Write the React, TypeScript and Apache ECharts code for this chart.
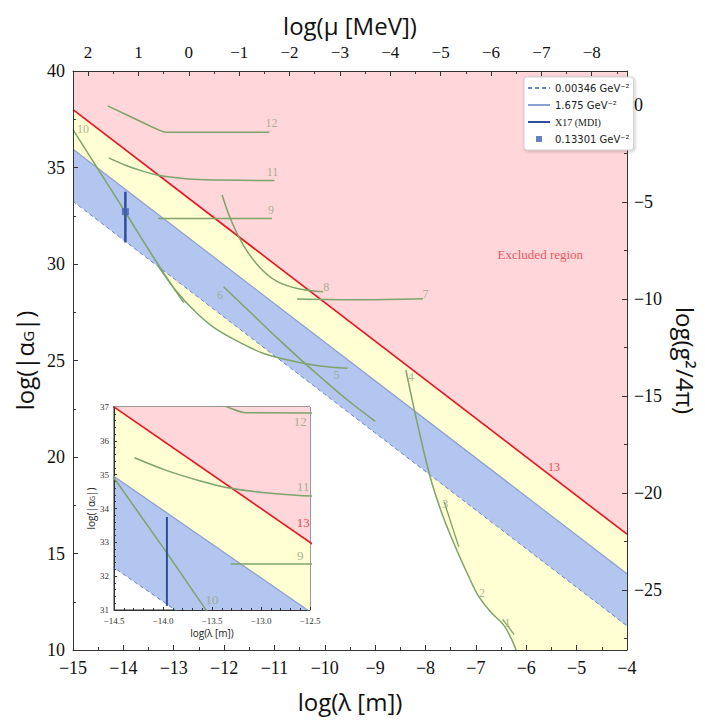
import React, { useEffect, useRef } from "react";
import * as echarts from "echarts";

// ---------- data (log10 values) ----------
// straight boundary lines, given at the two ends of the λ range
const boundX = [-15, -4];
const line13 = [38.0, 16.0]; // curve 13 (red, excluded region boundary)
const line1675 = [35.95, 13.95]; // 1.675 GeV^-2
const line00346 = [33.25, 11.25]; // 0.00346 GeV^-2

// X17 (MDI)
const x17X = -13.96;
const x17Range = [31.12, 33.75];
const x17Point = 32.71; // 0.13301 GeV^-2

// top axis: log(μ [MeV]) = muOffset − log(λ [m])
const muOffset = -12.7;
// right axis: log(g²/4π) range
const gRange = [-28.1, 1.75];

// experimental curves [log λ, log |α_G|]
const curve12 = [[-14.31, 38.19], [-13.75, 37.5], [-13.3, 36.95], [-13.15, 36.83], [-11.1, 36.82]];
const curve11 = [[-14.29, 35.5], [-13.96, 35.12], [-13.6, 34.8], [-13.31, 34.6], [-12.9, 34.45], [-12.4, 34.36], [-11.0, 34.33]];
const curve9 = [[-13.31, 32.36], [-11.05, 32.36]];
const curve10 = [[-15.0, 36.96], [-14.5, 34.9], [-14.0, 32.85], [-13.5, 30.75], [-13.0, 28.75], [-12.8, 28.0]];
const curve5 = [[-13.3, 29.85], [-12.95, 28.6], [-12.6, 27.6], [-12.2, 26.7], [-11.7, 25.95], [-11.2, 25.35], [-10.6, 24.95], [-10.1, 24.72], [-9.55, 24.6]];
const curve6 = [[-12.01, 28.82], [-11.5, 27.55], [-11.0, 26.3], [-10.5, 25.1], [-10.0, 23.95], [-9.5, 22.85], [-9.0, 21.85]];
const curve8 = [[-12.04, 33.58], [-11.85, 32.2], [-11.6, 30.9], [-11.3, 29.85], [-10.95, 29.1], [-10.5, 28.7], [-10.03, 28.56]];
const curve7 = [[-10.55, 28.19], [-9.3, 28.15], [-8.05, 28.2]];
const curve4to1 = [[-8.39, 24.5], [-8.15, 21.6], [-7.9, 18.9], [-7.65, 16.9], [-7.4, 15.3], [-7.15, 13.85], [-6.95, 12.8], [-6.7, 11.95], [-6.45, 11.3], [-6.3, 10.6], [-6.2, 10.0]];
const cross3 = [[-7.63, 17.68], [-7.34, 15.35]];
const cross1 = [[-6.47, 11.6], [-6.24, 10.8]];
const bottomRightCorner = [-4, 10];

// curve labels [log λ, log |α_G|, text]
const mainLabels = [
  [-11.06, 37.29, "12"], [-11.04, 34.78, "11"], [-11.07, 32.8, "9"], [-14.8, 36.98, "10"],
  [-9.97, 28.79, "8"], [-8.0, 28.45, "7"], [-12.08, 28.39, "6"], [-9.77, 24.25, "5"],
  [-8.29, 24.16, "4"], [-7.61, 17.56, "3"], [-6.88, 12.94, "2"], [-6.37, 11.38, "1"],
];
const mainRedLabels = [[-5.45, 19.5, "13"]];
const excludedLabel = [[-5.72, 30.47, "Excluded region"]];
const insetLabels = [[-12.6, 36.57, "12"], [-12.57, 34.66, "11"], [-12.6, 32.6, "9"], [-13.5, 31.3, "10"]];
const insetRedLabels = [[-12.57, 33.59, "13"]];

// legend names
const NAME_DASH = "0.00346 GeV\u207B\u00B2";
const NAME_SOLID = "1.675 GeV\u207B\u00B2";
const NAME_X17 = "X17 (MDI)";
const NAME_SQ = "0.13301 GeV\u207B\u00B2";

// ---------- styles ----------
const SERIF = "'Liberation Serif', 'Times New Roman', serif";
const SANS = "'Open Sans', 'Noto Sans', sans-serif";
const PINK = "#ffd6d9";
const YELLOW = "#ffffd3";
const BLUE = "#b3c6ef";
const RED = "#e8141e";
const GREEN = "#7ea36b";
const LABEL_GREEN = "#95a283";
const AXIS = "#333";
const DASH_COLOR = "#6a86c4";
const SOLID_COLOR = "#8aa0cf";
const X17_COLOR = "#2c4f9e";

const pair = (xs: number[], ys: number[]) => xs.map((x, i) => [x, ys[i]]);

const minus = (s: string) => s.replace("-", "\u2212");
const intLabel = (v: number) => (Math.abs(v - Math.round(v)) > 1e-6 ? "" : minus(String(Math.round(v))));
const fiveLabel = (v: number) => (Math.abs(v / 5 - Math.round(v / 5)) > 1e-6 ? "" : minus(String(Math.round(v))));

function fill(data: any[], color: string, z: number, xi = 0, yi = 0, smooth: any = false) {
  return {
    type: "line", data, xAxisIndex: xi, yAxisIndex: yi, symbol: "none", silent: true, z,
    smooth,
    lineStyle: { opacity: 0, width: 0 },
    areaStyle: { color, opacity: 1, origin: "end" },
  };
}

function stroke(data: any[], color: string, width: number, z: number, xi = 0, yi = 0, extra: any = {}) {
  return {
    type: "line", data, xAxisIndex: xi, yAxisIndex: yi, symbol: "none", silent: true, z,
    itemStyle: { color },
    lineStyle: { color, width, ...(extra.lineStyle || {}) },
    ...extra.rest,
  };
}

function curve(data: any[], z: number, xi = 0, yi = 0) {
  return {
    type: "line", data, xAxisIndex: xi, yAxisIndex: yi, symbol: "none", silent: true, z,
    smooth: 0.35,
    lineStyle: { color: GREEN, width: 1.5 },
  };
}

function labels(items: any[], color: string, size: number, z: number, xi = 0, yi = 0) {
  return {
    type: "scatter", xAxisIndex: xi, yAxisIndex: yi, silent: true, z,
    symbolSize: 1, itemStyle: { color: "rgba(0,0,0,0)" },
    data: items.map(([x, y, t]) => ({ value: [x, y], name: t })),
    label: { show: true, position: "inside", formatter: "{b}", color, fontFamily: SERIF, fontSize: size },
  };
}

export default function App() {
  const ref = useRef<HTMLDivElement>(null);

  useEffect(() => {
    if (!ref.current) return;
    const chart = echarts.init(ref.current, null, { renderer: "svg" });

    const d13 = pair(boundX, line13);
    const d1675 = pair(boundX, line1675);
    const d00346 = pair(boundX, line00346);
    const dX17 = x17Range.map((y) => [x17X, y]);
    const brFill = [...curve4to1, bottomRightCorner];

    const mainSeries: any[] = [
      fill(brFill, YELLOW, 1, 0, 0, 0.35),
      fill(curve5, YELLOW, 1, 0, 0, 0.35),
      fill(d00346, BLUE, 2),
      fill(d1675, YELLOW, 3),
      fill(d13, PINK, 4),
      stroke(d00346, DASH_COLOR, 1, 5, 0, 0, { lineStyle: { type: [4, 3] }, rest: { name: NAME_DASH } }),
      stroke(d1675, SOLID_COLOR, 1.2, 5, 0, 0, { rest: { name: NAME_SOLID } }),
      stroke(d13, RED, 1.6, 5),
      curve(curve12, 6), curve(curve11, 6), curve(curve9, 6), curve(curve10, 6), curve(curve5, 6),
      curve(curve6, 6), curve(curve8, 6), curve(curve7, 6), curve(curve4to1, 6),
      stroke(cross3, GREEN, 1.3, 6), stroke(cross1, GREEN, 1.3, 6),
      stroke(dX17, X17_COLOR, 2.5, 7, 0, 0, { rest: { name: NAME_X17 } }),
      {
        type: "scatter", name: NAME_SQ, data: [[x17X, x17Point]], symbol: "rect", symbolSize: 7,
        itemStyle: { color: "#3d62b0" }, z: 7, silent: true,
      },
      labels(mainLabels, LABEL_GREEN, 12, 8),
      labels(mainRedLabels, RED, 12, 8),
      labels(excludedLabel, "#e0323c", 13, 8),
    ];

    const insetSeries: any[] = [
      fill(d00346, BLUE, 11, 2, 2),
      fill(d1675, YELLOW, 12, 2, 2),
      fill(d13, PINK, 13, 2, 2),
      stroke(d00346, DASH_COLOR, 1, 14, 2, 2, { lineStyle: { type: [4, 3] } }),
      stroke(d1675, SOLID_COLOR, 1.2, 14, 2, 2),
      stroke(d13, RED, 1.6, 14, 2, 2),
      curve(curve12, 15, 2, 2), curve(curve11, 15, 2, 2), curve(curve9, 15, 2, 2), curve(curve10, 15, 2, 2),
      stroke(dX17, X17_COLOR, 2, 16, 2, 2),
      labels(insetLabels, LABEL_GREEN, 13, 17, 2, 2),
      labels(insetRedLabels, RED, 13, 17, 2, 2),
    ];

    const axisLine = { show: true, onZero: false, lineStyle: { color: AXIS } };
    const tickStyle = { inside: true, length: 5, lineStyle: { color: AXIS } };
    const minor = { show: true, splitNumber: 2, length: 3, lineStyle: { color: AXIS } };
    const mainLabel = { fontFamily: SERIF, fontSize: 18, color: "#111" };
    const titleStyle = { fontFamily: SANS, fontSize: 24, color: "#111" };
    const hideSymbol = { opacity: 0 };
    const corner = "M0,0h0.01v0.01h-0.01z M22,10h0.01v0.01h-0.01z";

    chart.setOption({
      animation: false,
      backgroundColor: "#fff",
      grid: [
        { left: 73, right: 67, top: 71, bottom: 70, show: false },
        { left: 114, top: 407, width: 196, height: 203, show: true, backgroundColor: "#fff", borderColor: AXIS, borderWidth: 1, z: 10 },
      ],
      legend: {
        data: [
          { name: NAME_DASH, itemStyle: hideSymbol },
          { name: NAME_SOLID, itemStyle: hideSymbol },
          { name: NAME_X17, itemStyle: hideSymbol },
          { name: NAME_SQ, icon: "path://" + corner + " M8,2h6v6h-6z" },
        ],
        left: 524, top: 77, orient: "vertical",
        backgroundColor: "#fff", borderColor: "#cfcfcf", borderWidth: 1, borderRadius: 3,
        padding: [6, 4, 6, 3], itemGap: 7, itemWidth: 22, itemHeight: 10,
        shadowBlur: 3, shadowColor: "rgba(0,0,0,0.25)", shadowOffsetX: 1, shadowOffsetY: 1,
        selectedMode: false, z: 20,
        formatter: (n: string) => (n === NAME_X17 ? "{s|" + n + "}" : n),
        textStyle: {
          fontFamily: "'DejaVu Sans', sans-serif", fontSize: 10, color: "#222",
          rich: { s: { fontFamily: SERIF, fontSize: 10, color: "#222" } },
        },
      },
      xAxis: [
        {
          type: "value", gridIndex: 0, position: "bottom", min: boundX[0], max: boundX[1], interval: 1, z: 8,
          axisLine, axisTick: tickStyle, minorTick: minor,
          splitLine: { show: false },
          axisLabel: { ...mainLabel, margin: 9, formatter: intLabel },
          name: "log(\u03BB [m])", nameLocation: "middle", nameGap: 39, nameTextStyle: titleStyle,
        },
        {
          type: "value", gridIndex: 0, position: "top", inverse: true,
          min: muOffset - boundX[1], max: muOffset - boundX[0], minInterval: 1, maxInterval: 1, splitNumber: 11, z: 8,
          axisLine, axisTick: tickStyle, minorTick: minor,
          splitLine: { show: false },
          axisLabel: { ...mainLabel, fontSize: 17, margin: 10, formatter: intLabel },
          name: "log(\u03BC [MeV])", nameLocation: "middle", nameGap: 34, nameTextStyle: titleStyle,
        },
        {
          type: "value", gridIndex: 1, min: -14.5, max: -12.5, interval: 0.5, z: 12,
          axisLine,
          axisTick: { inside: true, length: 3, lineStyle: { color: AXIS } },
          minorTick: { show: true, splitNumber: 5, length: 2, lineStyle: { color: AXIS } },
          splitLine: { show: false },
          axisLabel: { fontFamily: SERIF, fontSize: 9, color: "#333", margin: 6, formatter: (v: number) => minus(v.toFixed(1)) },
          name: "log(\u03BB [m])", nameLocation: "middle", nameGap: 18,
          nameTextStyle: { fontFamily: SANS, fontSize: 10, color: "#222" },
        },
      ],
      yAxis: [
        {
          type: "value", gridIndex: 0, position: "left", min: 10, max: 40, interval: 5, z: 8,
          axisLine, axisTick: tickStyle, minorTick: minor,
          splitLine: { show: false },
          axisLabel: { ...mainLabel, margin: 8, formatter: intLabel },
          name: "log(|\u03B1{sub|G}|)", nameLocation: "middle", nameRotate: 90, nameGap: 29,
          nameTextStyle: { ...titleStyle, rich: { sub: { fontFamily: SANS, fontSize: 15, color: "#111", padding: [8, 0, 0, 0] } } },
        },
        {
          type: "value", gridIndex: 0, position: "right", min: gRange[0], max: gRange[1],
          minInterval: 5, maxInterval: 5, splitNumber: 6, z: 8,
          axisLine, axisTick: tickStyle, minorTick: minor,
          splitLine: { show: false },
          axisLabel: { ...mainLabel, margin: 7, formatter: fiveLabel },
          name: "log(g\u00B2/4\u03C0)", nameLocation: "middle", nameRotate: -90, nameGap: 45, nameTextStyle: titleStyle,
        },
        {
          type: "value", gridIndex: 1, min: 31, max: 37, interval: 1, z: 12,
          axisLine,
          axisTick: { inside: true, length: 3, lineStyle: { color: AXIS } },
          minorTick: { show: true, splitNumber: 5, length: 2, lineStyle: { color: AXIS } },
          splitLine: { show: false },
          axisLabel: { fontFamily: SERIF, fontSize: 9, color: "#333", margin: 5 },
          name: "log(|\u03B1{sub|G}|)", nameLocation: "middle", nameRotate: 90, nameGap: 15,
          nameTextStyle: { fontFamily: SANS, fontSize: 10, color: "#222", rich: { sub: { fontFamily: SANS, fontSize: 7, color: "#222", padding: [3, 0, 0, 0] } } },
        },
      ],
      series: [...mainSeries, ...insetSeries],
    });

    return () => chart.dispose();
  }, []);

  return <div ref={ref} style={{ position: "absolute", left: 0, top: 0, width: 705, height: 720 }} />;
}
